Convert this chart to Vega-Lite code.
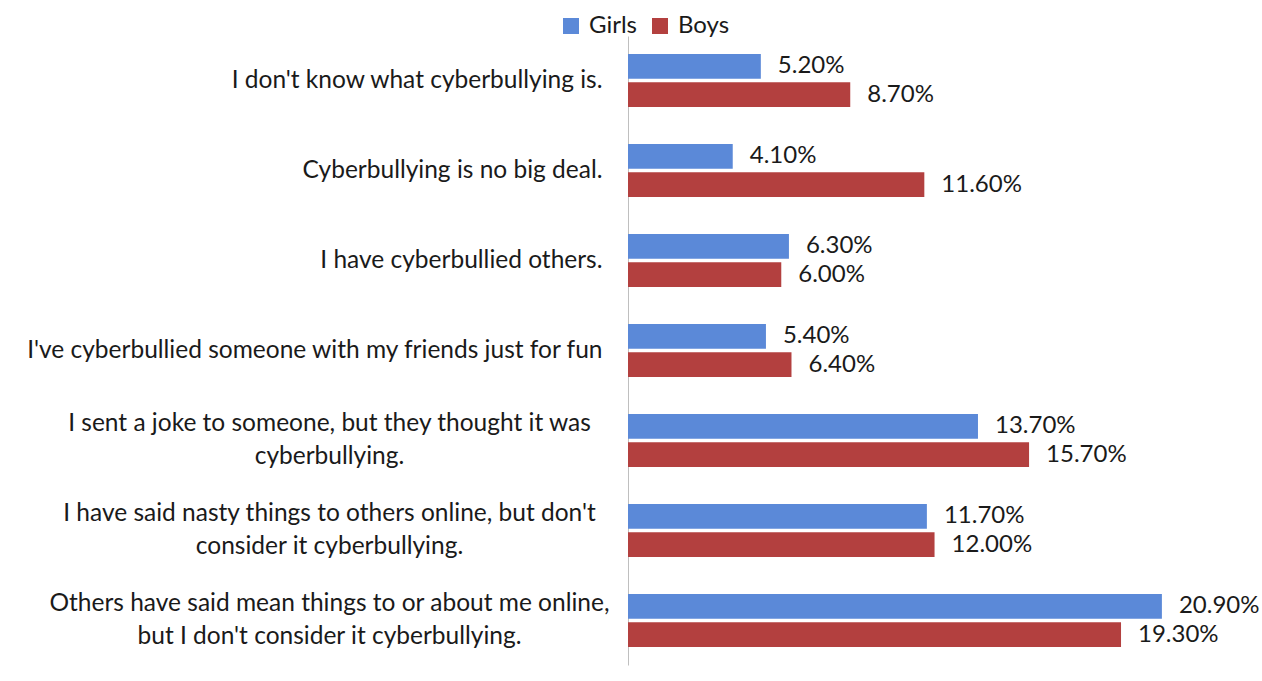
{
  "$schema": "https://vega.github.io/schema/vega-lite/v6.json",
  "width": 562,
  "height": 629,
  "autosize": {"type": "none"},
  "padding": {"left": 628, "top": 36, "right": 72, "bottom": 16},
  "background": "white",
  "config": {"view": {"stroke": null}, "font": "Lato"},
  "data": {
    "values": [
      {"question": "I don't know what cyberbullying is.", "gender": "Girls", "value": 0.052},
      {"question": "I don't know what cyberbullying is.", "gender": "Boys", "value": 0.087},
      {"question": "Cyberbullying is no big deal.", "gender": "Girls", "value": 0.041},
      {"question": "Cyberbullying is no big deal.", "gender": "Boys", "value": 0.116},
      {"question": "I have cyberbullied others.", "gender": "Girls", "value": 0.063},
      {"question": "I have cyberbullied others.", "gender": "Boys", "value": 0.060},
      {"question": "I've cyberbullied someone with my friends just for fun", "gender": "Girls", "value": 0.054},
      {"question": "I've cyberbullied someone with my friends just for fun", "gender": "Boys", "value": 0.064},
      {"question": "I sent a joke to someone, but they thought it was|cyberbullying.", "gender": "Girls", "value": 0.137},
      {"question": "I sent a joke to someone, but they thought it was|cyberbullying.", "gender": "Boys", "value": 0.157},
      {"question": "I have said nasty things to others online, but don't|consider it cyberbullying.", "gender": "Girls", "value": 0.117},
      {"question": "I have said nasty things to others online, but don't|consider it cyberbullying.", "gender": "Boys", "value": 0.120},
      {"question": "Others have said mean things to or about me online,|but I don't consider it cyberbullying.", "gender": "Girls", "value": 0.209},
      {"question": "Others have said mean things to or about me online,|but I don't consider it cyberbullying.", "gender": "Boys", "value": 0.193}
    ]
  },
  "layer": [
    {
      "mark": {"type": "bar"},
      "encoding": {
        "y": {
          "field": "question", "type": "nominal", "sort": null,
          "scale": {"paddingInner": 0.41, "paddingOuter": 0.2},
          "axis": {
            "orient": "left", "title": null, "ticks": false,
            "domain": true, "domainColor": "#BFBFBF", "domainWidth": 1,
            "labelExpr": "indexof(datum.label,'|') >= 0 ? '' : datum.label",
            "labelAlign": "right", "labelPadding": 26, "labelLimit": 0,
            "labelFontSize": 24.5, "labelColor": "#1a1a1a", "labelFont": "Lato"
          }
        },
        "yOffset": {"field": "gender", "type": "nominal", "sort": ["Girls", "Boys"], "scale": {"paddingInner": 0.12, "paddingOuter": 0}},
        "x": {"field": "value", "type": "quantitative", "scale": {"domain": [0, 0.22]}, "axis": null},
        "color": {
          "field": "gender", "type": "nominal",
          "scale": {"domain": ["Girls", "Boys"], "range": ["#5B89D8", "#B3403F"]},
          "legend": {
            "orient": "none", "legendX": -69, "legendY": -22, "direction": "horizontal",
            "title": null, "symbolType": "square", "symbolSize": 256,
            "labelFontSize": 24, "labelColor": "#1a1a1a", "labelFont": "Lato",
            "labelOffset": 6, "columnPadding": 11, "symbolStrokeWidth": 0
          }
        }
      }
    },
    {
      "mark": {"type": "text", "align": "left", "baseline": "middle", "dx": 17, "fontSize": 24, "color": "#1a1a1a", "font": "Lato"},
      "encoding": {
        "y": {
          "field": "question", "type": "nominal", "sort": null,
          "scale": {"paddingInner": 0.41, "paddingOuter": 0.2},
          "axis": {
            "orient": "left", "title": null, "ticks": false, "domain": false,
            "labelExpr": "indexof(datum.label,'|') >= 0 ? split(datum.label,'|') : ''",
            "labelAlign": "center", "labelPadding": 299, "labelLimit": 0,
            "labelLineHeight": 33, "labelOffset": -16,
            "labelFontSize": 24.5, "labelColor": "#1a1a1a", "labelFont": "Lato"
          }
        },
        "yOffset": {"field": "gender", "type": "nominal", "sort": ["Girls", "Boys"], "scale": {"paddingInner": 0.12, "paddingOuter": 0}},
        "x": {"field": "value", "type": "quantitative"},
        "text": {"field": "value", "type": "quantitative", "format": ".2%"}
      }
    }
  ],
  "resolve": {"axis": {"y": "independent"}}
}
